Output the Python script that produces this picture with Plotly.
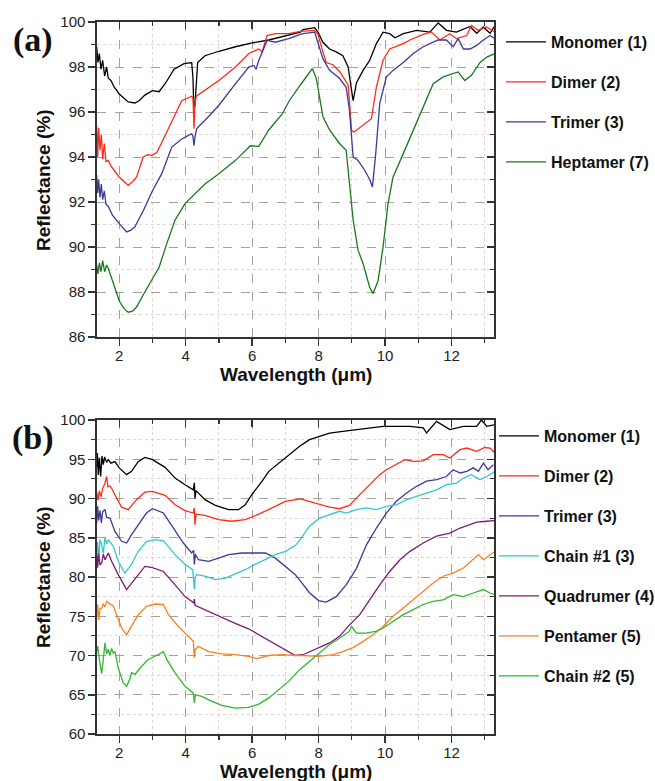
import plotly.graph_objects as go

# ---------------- Panel (a) data: (wavelength µm, reflectance %) ----------------
monomer_a = [(1.32,98.9),(1.36,98.2),(1.40,98.6),(1.45,97.9),(1.50,98.3),(1.56,97.6),(1.62,98.0),(1.67,97.5),
             (1.75,97.4),(1.85,97.1),(2.0,96.8),(2.15,96.6),(2.27,96.45),(2.47,96.4),(2.6,96.5),(2.77,96.75),
             (3.0,96.95),(3.2,96.9),(3.4,97.3),(3.65,97.9),(3.95,98.15),(4.18,98.2),(4.22,97.5),(4.24,96.3),
             (4.27,96.2),(4.30,96.8),(4.33,97.8),(4.36,98.2),(4.58,98.5),(5.0,98.7),(5.5,98.9),(6.0,99.07),
             (6.5,99.2),(7.0,99.4),(7.45,99.55),(7.53,99.66),(7.88,99.75),(7.98,99.55),(8.13,99.1),(8.33,98.8),
             (8.53,98.67),(8.73,98.5),(8.89,98.0),(9.04,96.5),(9.14,97.3),(9.34,97.85),(9.54,98.3),(9.74,99.04),
             (9.94,99.55),(10.14,99.48),(10.3,99.3),(10.55,99.48),(10.95,99.63),(11.35,99.55),(11.6,99.96),
             (11.85,99.63),(12.15,99.55),(12.56,99.8),(12.76,99.5),(12.96,99.78),(13.16,99.5),(13.31,99.85)]
dimer_a = [(1.32,95.4),(1.35,94.0),(1.38,95.3),(1.42,94.3),(1.46,95.0),(1.50,93.9),(1.55,94.6),(1.60,93.8),
           (1.67,93.85),(1.75,93.6),(1.85,93.4),(2.0,93.1),(2.15,92.9),(2.27,92.74),(2.4,92.9),(2.52,93.1),
           (2.72,94.0),(2.85,94.1),(2.98,94.07),(3.13,94.2),(3.33,94.8),(3.58,95.6),(3.88,96.5),(4.18,96.7),
           (4.22,96.6),(4.25,95.26),(4.28,96.4),(4.32,96.7),(4.58,96.96),(5.0,97.4),(5.5,98.0),(5.9,98.6),
           (6.2,98.8),(6.3,98.67),(6.45,99.4),(6.7,99.48),(7.1,99.48),(7.45,99.58),(7.88,99.63),(7.98,99.45),
           (8.13,98.67),(8.23,98.2),(8.43,98.1),(8.63,97.8),(8.89,97.2),(8.99,95.2),(9.06,95.1),(9.24,95.3),
           (9.49,95.55),(9.59,95.7),(9.74,97.1),(9.94,98.3),(10.14,98.8),(10.34,98.9),(10.55,99.04),(10.75,99.2),
           (10.95,99.33),(11.15,99.45),(11.4,99.55),(11.65,99.2),(11.95,99.48),(12.15,99.26),(12.46,99.4),
           (12.6,99.85),(12.8,99.63),(13.05,99.78),(13.31,99.55)]
trimer_a = [(1.32,93.2),(1.35,92.4),(1.38,93.0),(1.42,92.2),(1.46,92.8),(1.50,92.1),(1.55,92.5),(1.60,91.9),
            (1.67,91.8),(1.8,91.4),(2.0,91.04),(2.22,90.67),(2.35,90.75),(2.47,90.9),(2.72,91.6),(3.0,92.5),
            (3.28,93.26),(3.58,94.44),(3.88,94.8),(4.18,95.04),(4.22,94.9),(4.25,94.5),(4.28,94.9),(4.33,95.26),
            (4.69,95.8),(5.0,96.3),(5.5,97.26),(5.9,98.0),(6.05,98.07),(6.12,97.9),(6.2,98.3),(6.45,99.18),
            (6.7,99.1),(7.1,99.26),(7.45,99.45),(7.53,99.48),(7.88,99.55),(8.03,98.9),(8.13,98.37),(8.33,97.85),
            (8.63,97.5),(8.83,97.1),(8.93,96.07),(9.04,94.0),(9.19,93.85),(9.39,93.4),(9.54,93.0),(9.62,92.67),
            (9.72,94.15),(9.84,96.37),(10.04,97.56),(10.24,97.85),(10.55,98.2),(10.85,98.6),(11.15,98.9),
            (11.35,99.04),(11.6,99.2),(11.85,99.2),(12.05,98.9),(12.2,99.26),(12.36,98.8),(12.56,98.8),
            (12.76,98.96),(12.96,99.2),(13.16,99.4),(13.31,99.26)]
heptamer_a = [(1.32,89.2),(1.36,88.8),(1.40,89.3),(1.45,88.9),(1.50,89.4),(1.56,88.9),(1.62,89.2),(1.67,89.04),
              (1.82,88.4),(2.0,87.6),(2.15,87.25),(2.27,87.1),(2.4,87.15),(2.52,87.33),(2.77,88.0),(3.0,88.6),
              (3.2,89.1),(3.43,90.15),(3.68,91.2),(3.98,91.93),(4.23,92.3),(4.58,92.8),(5.0,93.26),(5.5,93.85),
              (5.95,94.5),(6.2,94.47),(6.5,95.2),(6.9,95.9),(7.12,96.5),(7.3,96.9),(7.45,97.2),(7.65,97.6),
              (7.81,97.93),(7.93,97.5),(8.13,95.8),(8.33,95.2),(8.63,94.6),(8.83,94.3),(8.93,92.96),(9.04,91.2),
              (9.19,89.85),(9.34,89.26),(9.54,88.2),(9.64,87.93),(9.79,88.5),(9.94,90.0),(10.09,91.93),(10.24,93.1),
              (10.55,94.15),(10.85,95.2),(11.15,96.2),(11.45,97.26),(11.75,97.56),(12.05,97.7),(12.2,97.78),
              (12.4,97.4),(12.6,97.63),(12.86,98.2),(13.06,98.44),(13.31,98.6)]

# ---------------- Panel (b) data ----------------
monomer_b = [(1.32,94.0),(1.34,95.8),(1.37,93.0),(1.40,95.2),(1.44,92.8),(1.48,95.4),(1.52,94.3),(1.56,95.3),
             (1.62,94.6),(1.67,94.95),(1.75,94.5),(1.87,94.7),(2.0,93.9),(2.22,93.04),(2.37,93.46),(2.57,94.7),
             (2.77,95.24),(3.0,94.95),(3.38,93.97),(3.68,92.6),(3.98,91.76),(4.23,91.1),(4.26,92.0),(4.28,90.0),
             (4.31,91.0),(4.58,89.85),(4.89,89.13),(5.29,88.58),(5.59,88.58),(5.79,89.2),(5.99,90.5),(6.3,92.2),
             (6.5,93.46),(6.8,94.5),(7.1,95.58),(7.43,96.65),(7.73,97.5),(8.03,97.9),(8.33,98.34),(8.73,98.56),
             (9.14,98.77),(9.54,98.9),(9.94,99.2),(10.34,99.2),(10.75,99.2),(11.15,99.0),(11.25,98.34),
             (11.55,99.83),(11.95,98.77),(12.36,99.2),(12.76,99.2),(12.9,100.0),(13.06,99.2),(13.31,99.4)]
dimer_b = [(1.32,90.8),(1.36,89.8),(1.40,91.0),(1.45,90.2),(1.50,91.3),(1.56,91.8),(1.62,92.8),(1.66,91.5),
           (1.72,91.6),(1.77,91.3),(1.92,90.06),(2.07,88.9),(2.27,88.58),(2.52,89.85),(2.77,90.8),(3.0,90.9),
           (3.38,90.4),(3.68,89.2),(3.98,88.45),(4.23,88.15),(4.26,88.8),(4.28,86.67),(4.31,88.0),(4.58,87.85),
           (4.99,87.3),(5.39,87.1),(5.79,87.3),(6.2,88.0),(6.6,88.8),(7.0,89.64),(7.45,89.94),(7.53,89.85),
           (8.0,89.3),(8.33,88.9),(8.63,88.7),(8.93,89.13),(9.24,90.5),(9.54,91.76),(9.84,93.04),(10.04,93.67),
           (10.34,94.3),(10.6,94.95),(10.85,94.73),(11.15,94.8),(11.45,95.58),(11.75,95.58),(11.95,95.16),
           (12.26,96.22),(12.46,96.43),(12.76,96.0),(13.0,96.5),(13.16,96.43),(13.31,95.8)]
trimer_b = [(1.32,86.8),(1.35,89.0),(1.38,87.2),(1.42,88.5),(1.46,86.9),(1.50,88.3),(1.57,88.6),(1.62,87.6),
            (1.72,87.5),(1.87,85.8),(2.07,84.55),(2.22,84.33),(2.37,85.4),(2.57,86.67),(2.82,88.15),(3.0,88.7),
            (3.33,88.15),(3.63,86.24),(3.93,84.33),(4.18,83.06),(4.24,83.4),(4.26,81.6),(4.29,82.9),(4.38,82.2),
            (4.69,82.0),(4.99,82.4),(5.29,82.85),(5.69,83.06),(6.09,83.06),(6.4,83.06),(6.7,82.4),(7.0,81.35),
            (7.3,80.3),(7.45,79.5),(7.73,77.96),(8.0,77.0),(8.23,76.8),(8.53,77.5),(8.83,79.0),(9.14,81.1),
            (9.44,84.1),(9.74,86.24),(10.04,88.15),(10.34,89.64),(10.65,90.7),(10.95,91.55),(11.25,92.2),
            (11.55,92.4),(11.85,92.8),(12.05,93.67),(12.26,93.25),(12.46,93.46),(12.66,93.9),(12.81,93.46),
            (12.96,94.5),(13.1,93.67),(13.26,94.3)]
chain1_b = [(1.32,81.5),(1.35,84.5),(1.38,82.0),(1.42,84.8),(1.47,84.1),(1.52,83.0),(1.57,85.0),(1.62,84.2),
            (1.67,84.75),(1.82,83.9),(1.97,82.0),(2.17,80.5),(2.37,81.6),(2.57,83.27),(2.82,84.5),(3.08,84.75),
            (3.33,84.6),(3.43,84.1),(3.68,82.85),(3.98,81.6),(4.21,80.93),(4.26,78.4),(4.29,80.0),(4.33,80.3),
            (4.58,80.1),(4.89,79.66),(5.19,79.87),(5.49,80.4),(5.79,80.93),(6.09,81.6),(6.4,82.2),(6.7,82.85),
            (7.0,83.27),(7.3,84.0),(7.45,84.8),(7.73,86.5),(8.03,87.5),(8.33,87.94),(8.63,88.37),(8.83,88.15),
            (9.14,88.58),(9.44,88.8),(9.74,88.58),(10.04,89.0),(10.34,89.2),(10.65,89.85),(10.95,90.28),
            (11.25,90.7),(11.55,91.1),(11.85,91.76),(12.15,91.97),(12.36,92.6),(12.6,93.04),(12.86,92.4),
            (13.06,92.8),(13.31,93.46)]
quadrumer_b = [(1.32,82.8),(1.35,81.2),(1.38,83.0),(1.42,81.5),(1.47,81.8),(1.52,82.9),(1.57,82.2),(1.67,83.06),
               (1.77,82.0),(1.97,80.3),(2.22,78.4),(2.37,79.24),(2.57,80.3),(2.77,81.35),(3.0,81.2),(3.33,80.7),
               (3.68,79.0),(3.98,77.5),(4.24,76.7),(4.26,77.2),(4.28,76.4),(4.69,75.6),(5.09,74.86),(5.49,74.1),
               (5.89,73.4),(6.3,72.44),(6.7,71.46),(7.0,70.74),(7.3,70.0),(7.53,70.1),(7.73,70.5),(8.03,71.0),
               (8.33,71.6),(8.63,72.44),(8.93,73.9),(9.24,75.2),(9.54,77.1),(9.84,79.0),(10.14,80.7),(10.45,82.2),
               (10.75,83.27),(11.15,84.33),(11.55,85.2),(11.95,85.6),(12.26,86.24),(12.56,86.67),(12.76,87.0),
               (13.06,87.1),(13.31,87.2)]
pentamer_b = [(1.32,75.0),(1.35,76.5),(1.38,74.5),(1.42,76.0),(1.47,76.0),(1.52,76.6),(1.57,76.2),(1.62,76.9),
              (1.67,76.7),(1.82,76.3),(1.92,75.2),(2.07,73.5),(2.22,72.65),(2.37,73.7),(2.57,75.2),(2.82,76.26),
              (3.08,76.56),(3.33,76.5),(3.48,75.2),(3.78,73.7),(4.08,72.44),(4.23,71.8),(4.26,69.7),(4.29,70.8),
              (4.38,71.17),(4.69,70.5),(5.09,70.2),(5.49,70.1),(5.89,69.9),(6.14,69.6),(6.5,70.0),(6.9,70.1),
              (7.3,70.0),(7.53,70.0),(8.0,69.9),(8.43,70.1),(8.73,70.5),(9.04,71.0),(9.34,71.8),(9.64,72.65),
              (9.94,73.7),(10.24,75.0),(10.55,76.05),(10.85,77.1),(11.15,78.2),(11.45,79.24),(11.75,80.1),
              (12.05,80.5),(12.36,81.15),(12.6,82.0),(12.81,82.85),(12.96,82.2),(13.16,82.85),(13.31,83.27)]
chain2_b = [(1.32,70.5),(1.35,71.2),(1.40,69.5),(1.44,68.2),(1.47,67.7),(1.52,69.5),(1.57,71.6),(1.62,70.2),
            (1.67,70.8),(1.72,70.0),(1.77,70.9),(1.82,70.3),(1.87,70.5),(1.97,68.4),(2.12,66.5),(2.22,66.07),
            (2.32,67.0),(2.37,67.8),(2.47,67.6),(2.67,68.6),(2.87,69.5),(3.08,69.9),(3.33,70.5),(3.43,69.5),
            (3.68,67.8),(3.98,66.07),(4.23,65.2),(4.26,63.95),(4.29,65.0),(4.48,64.8),(4.79,64.16),(5.09,63.65),
            (5.49,63.3),(5.89,63.4),(6.2,63.8),(6.5,64.6),(6.8,65.6),(7.1,66.7),(7.43,68.2),(7.73,69.26),
            (8.03,70.3),(8.33,71.4),(8.63,72.2),(8.93,73.1),(8.99,73.7),(9.14,72.86),(9.44,72.86),(9.74,73.1),
            (9.94,73.5),(10.24,74.35),(10.55,75.2),(10.85,75.84),(11.15,76.5),(11.45,76.9),(11.75,77.1),
            (12.05,77.75),(12.36,77.5),(12.66,77.96),(12.96,78.4),(13.16,77.96),(13.31,77.75)]

names_a = ["Monomer (1)", "Dimer (2)", "Trimer (3)", "Heptamer (7)"]
colors_a = ["#000000", "#ff2a1a", "#3a3a9a", "#157a1e"]
series_a = [monomer_a, dimer_a, trimer_a, heptamer_a]

names_b = ["Monomer (1)", "Dimer (2)", "Trimer (3)", "Chain #1 (3)", "Quadrumer (4)", "Pentamer (5)", "Chain #2 (5)"]
colors_b = ["#000000", "#ff2a1a", "#3a3a9a", "#33c8d0", "#7d1a78", "#ff7f1e", "#2eb82e"]
series_b = [monomer_b, dimer_b, trimer_b, chain1_b, quadrumer_b, pentamer_b, chain2_b]

x_range = [1.33, 13.28]
ya_range = [86, 100]
yb_range = [60, 100]

fig = go.Figure()
for i, (nm, col, ser) in enumerate(zip(names_a, colors_a, series_a)):
    xs, ys = zip(*ser)
    fig.add_trace(go.Scatter(x=list(xs), y=list(ys), mode="lines", name=nm,
                             line=dict(color=col, width=1.3), xaxis="x", yaxis="y",
                             legend="legend", legendgroup="a%d" % i))
for i, (nm, col, ser) in enumerate(zip(names_b, colors_b, series_b)):
    xs, ys = zip(*ser)
    fig.add_trace(go.Scatter(x=list(xs), y=list(ys), mode="lines", name=nm,
                             line=dict(color=col, width=1.3), xaxis="x2", yaxis="y2",
                             legend="legend2", legendgroup="b%d" % i))
# helper invisible traces for the inward mirrored ticks
fig.add_trace(go.Scatter(x=[None], y=[None], xaxis="x3", yaxis="y3", showlegend=False, hoverinfo="skip"))
fig.add_trace(go.Scatter(x=[None], y=[None], xaxis="x4", yaxis="y4", showlegend=False, hoverinfo="skip"))

W, H = 655, 781
MT, MB = 20, 40            # fixed margins
PH = H - MT - MB


def py(p):                 # pixel row (from top) -> paper y
    return (H - MB - p) / PH


def px(p):
    return p / W


dom_x = [px(97), px(494)]
dom_ya = [py(337), py(22)]
dom_yb = [py(734), py(420)]

AX = "#333333"
MAJ_GRID = "#aaa09a"
MIN_GRID = "#ead3cc"
tickfont = dict(family="Arial, Liberation Sans, sans-serif", size=15, color="#222222")


def xaxis(anchor, domain):
    return dict(domain=domain, anchor=anchor, range=x_range, dtick=2, tick0=0,
                ticks="outside", ticklen=7, tickwidth=1.5, tickcolor=AX, ticklabelstandoff=-3,
                showline=True, linecolor=AX, linewidth=1.6, mirror=True,
                showgrid=True, gridcolor=MAJ_GRID, griddash="dash", gridwidth=1,
                zeroline=False, tickfont=tickfont, automargin=False,
                minor=dict(dtick=1, tick0=0, ticks="outside", ticklen=4, tickwidth=1.2,
                           tickcolor=AX, showgrid=True, gridcolor=MIN_GRID, griddash="dot", gridwidth=1))


def yaxis(anchor, domain, rng, dt, mdt):
    return dict(domain=domain, anchor=anchor, range=rng, dtick=dt, tick0=0,
                ticks="outside", ticklen=7, tickwidth=1.5, tickcolor=AX,
                showline=True, linecolor=AX, linewidth=1.6, mirror=True,
                showgrid=True, gridcolor=MAJ_GRID, griddash="dash", gridwidth=1,
                zeroline=False, tickfont=tickfont, automargin=False,
                minor=dict(dtick=mdt, tick0=0, ticks="outside", ticklen=4, tickwidth=1.2,
                           tickcolor=AX, showgrid=True, gridcolor=MIN_GRID, griddash="dot", gridwidth=1))


def xtop(overlay, anchor, domain):
    return dict(domain=domain, overlaying=overlay, anchor=anchor, side="top", range=x_range,
                dtick=2, tick0=0, ticks="inside", ticklen=7, tickwidth=1.5, tickcolor=AX,
                showticklabels=False, showgrid=False, showline=False, zeroline=False, automargin=False,
                minor=dict(dtick=1, tick0=0, ticks="inside", ticklen=4, tickwidth=1.2, tickcolor=AX, showgrid=False))


def yright(overlay, anchor, domain, rng, dt, mdt):
    return dict(domain=domain, overlaying=overlay, anchor=anchor, side="right", range=rng,
                dtick=dt, tick0=0, ticks="inside", ticklen=7, tickwidth=1.5, tickcolor=AX,
                showticklabels=False, showgrid=False, showline=False, zeroline=False, automargin=False,
                minor=dict(dtick=mdt, tick0=0, ticks="inside", ticklen=4, tickwidth=1.2, tickcolor=AX, showgrid=False))


legfont = dict(family="Arial, Liberation Sans, sans-serif", size=16, color="#111111", weight="bold")

fig.update_layout(
    width=W, height=H,
    margin=dict(l=0, r=0, t=MT, b=MB, pad=0, autoexpand=False),
    paper_bgcolor="white", plot_bgcolor="white",
    xaxis=xaxis("y", dom_x),
    yaxis=yaxis("x", dom_ya, ya_range, 2, 1),
    xaxis2=xaxis("y2", dom_x),
    yaxis2=yaxis("x2", dom_yb, yb_range, 5, 2.5),
    xaxis3=xtop("x", "y3", dom_x),
    yaxis3=yright("y", "x3", dom_ya, ya_range, 2, 1),
    xaxis4=xtop("x2", "y4", dom_x),
    yaxis4=yright("y2", "x4", dom_yb, yb_range, 5, 2.5),
    legend=dict(x=px(501), y=py(25), xanchor="left", yanchor="top", font=legfont,
                bgcolor="rgba(0,0,0,0)", traceorder="grouped", tracegroupgap=16.2, itemwidth=40),
    legend2=dict(x=px(494), y=py(419), xanchor="left", yanchor="top", font=legfont,
                 bgcolor="rgba(0,0,0,0)", traceorder="grouped", tracegroupgap=16.2, itemwidth=40),
    showlegend=True,
)

titlefont = dict(family="Arial, Liberation Sans, sans-serif", size=19, color="#111111", weight="bold")
panelfont = dict(family="Times New Roman, Liberation Serif, serif", size=34, color="#111111", weight="bold")
ann = [
    dict(text="(a)", x=px(33), y=py(40), font=panelfont),
    dict(text="(b)", x=px(33), y=py(438), font=panelfont),
    dict(text="Reflectance (%)", x=px(43), y=py(180), textangle=-90, font=titlefont),
    dict(text="Reflectance (%)", x=px(43), y=py(577), textangle=-90, font=titlefont),
    dict(text="Wavelength (\u03bcm)", x=px(296), y=py(374), font=titlefont),
    dict(text="Wavelength (\u03bcm)", x=px(296), y=py(771), font=titlefont),
]
for a in ann:
    a.update(xref="paper", yref="paper", showarrow=False, xanchor="center", yanchor="middle")
fig.update_layout(annotations=ann)

fig.write_html("out.html",
               config={"displayModeBar": False, "staticPlot": True},
               post_script="document.body.style.margin='0';document.body.style.overflow='hidden';")
